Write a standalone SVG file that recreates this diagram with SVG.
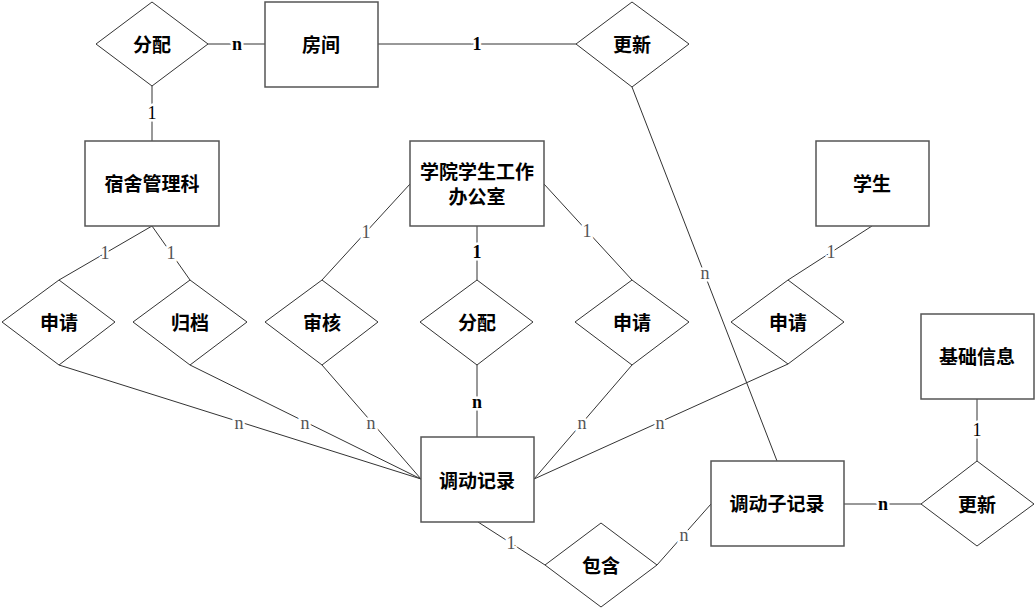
<svg xmlns="http://www.w3.org/2000/svg" width="1036" height="609" viewBox="0 0 1036 609">
<style>
.ent{fill:#fff;stroke:#555;stroke-width:1.5}
.rel{fill:#fff;stroke:#333;stroke-width:1}
.t{font-family:"Noto Sans CJK SC","Noto Sans CJK JP",sans-serif;font-size:19px;font-weight:bold;fill:#000;text-anchor:middle;dominant-baseline:central}
.ln{stroke:#333;stroke-width:1;fill:none}
.lb{font-family:"Liberation Serif",serif;font-size:18px;fill:#555;text-anchor:middle;dominant-baseline:central;stroke:#fff;stroke-width:5;paint-order:stroke}
.lk{fill:#000;font-weight:bold}
</style>
<rect width="1036" height="609" fill="#fff"/>
<g id="connectors">
<line class="ln" x1="208" y1="44" x2="265" y2="44"/>
<line class="ln" x1="152" y1="86" x2="152" y2="141"/>
<line class="ln" x1="378" y1="44" x2="576" y2="44"/>
<line class="ln" x1="632" y1="87" x2="777" y2="461"/>
<line class="ln" x1="152" y1="226" x2="59" y2="280"/>
<line class="ln" x1="152" y1="226" x2="190" y2="280"/>
<line class="ln" x1="410" y1="184" x2="322" y2="280"/>
<line class="ln" x1="544" y1="184" x2="632" y2="280"/>
<line class="ln" x1="477" y1="226" x2="477" y2="280"/>
<line class="ln" x1="872" y1="226" x2="788" y2="280"/>
<line class="ln" x1="59" y1="365" x2="421" y2="479"/>
<line class="ln" x1="190" y1="365" x2="421" y2="479"/>
<line class="ln" x1="322" y1="365" x2="421" y2="479"/>
<line class="ln" x1="477" y1="365" x2="477" y2="437"/>
<line class="ln" x1="632" y1="365" x2="534" y2="479"/>
<line class="ln" x1="788" y1="364" x2="534" y2="479"/>
<line class="ln" x1="478" y1="522" x2="545" y2="565"/>
<line class="ln" x1="657" y1="565" x2="711" y2="504"/>
<line class="ln" x1="844" y1="504" x2="921" y2="504"/>
<line class="ln" x1="977" y1="399" x2="977" y2="461"/>
<text class="lb lk" x="237" y="44">n</text>
<text class="lb lk" x="152" y="113" style="font-weight:normal">1</text>
<text class="lb lk" x="477" y="44">1</text>
<text class="lb" x="705" y="273">n</text>
<text class="lb" x="105" y="253">1</text>
<text class="lb" x="171" y="253">1</text>
<text class="lb" x="366" y="232">1</text>
<text class="lb" x="587" y="231">1</text>
<text class="lb lk" x="477" y="252">1</text>
<text class="lb" x="831" y="252">1</text>
<text class="lb" x="239" y="423">n</text>
<text class="lb" x="305" y="423">n</text>
<text class="lb" x="371" y="423">n</text>
<text class="lb lk" x="477" y="402">n</text>
<text class="lb" x="582" y="423">n</text>
<text class="lb" x="660" y="423">n</text>
<text class="lb" x="511" y="543">1</text>
<text class="lb" x="684" y="535">n</text>
<text class="lb lk" x="883" y="504">n</text>
<text class="lb lk" x="977" y="430" style="font-weight:normal">1</text>
</g>
<g id="fenpei1"><polygon class="rel" points="152,2 208,44 152,86 96,44"/><text class="t" x="152" y="43">分配</text></g>
<g id="fangjian"><rect class="ent" x="265" y="2" width="113" height="85"/><text class="t" x="321" y="43">房间</text></g>
<g id="gengxin1"><polygon class="rel" points="632,2 689,44 632,87 576,44"/><text class="t" x="632" y="43">更新</text></g>
<g id="sushe"><rect class="ent" x="85" y="141" width="134" height="85"/><text class="t" x="152" y="182">宿舍管理科</text></g>
<g id="xueyuan"><rect class="ent" x="410" y="141" width="134" height="85"/><text class="t" x="477" y="170">学院学生工作</text><text class="t" x="477" y="195">办公室</text></g>
<g id="xuesheng"><rect class="ent" x="816" y="141" width="113" height="85"/><text class="t" x="872" y="182">学生</text></g>
<g id="shenqing1"><polygon class="rel" points="59,280 115,322 59,365 2,322"/><text class="t" x="59" y="321">申请</text></g>
<g id="guidang"><polygon class="rel" points="190,280 247,322 190,365 133,322"/><text class="t" x="190" y="321">归档</text></g>
<g id="shenhe"><polygon class="rel" points="322,280 378,322 322,365 265,322"/><text class="t" x="322" y="321">审核</text></g>
<g id="fenpei2"><polygon class="rel" points="477,280 533,322 477,365 420,322"/><text class="t" x="477" y="321">分配</text></g>
<g id="shenqing2"><polygon class="rel" points="632,280 689,322 632,365 575,322"/><text class="t" x="632" y="321">申请</text></g>
<g id="shenqing3"><polygon class="rel" points="788,280 844,322 788,364 731,322"/><text class="t" x="788" y="321">申请</text></g>
<g id="jichu"><rect class="ent" x="921" y="314" width="113" height="85"/><text class="t" x="977" y="355">基础信息</text></g>
<g id="diaodong"><rect class="ent" x="421" y="437" width="113" height="85"/><text class="t" x="477" y="479">调动记录</text></g>
<g id="diaodongzi"><rect class="ent" x="711" y="461" width="133" height="85"/><text class="t" x="777" y="502">调动子记录</text></g>
<g id="gengxin2"><polygon class="rel" points="977,461 1034,504 977,546 921,504"/><text class="t" x="977" y="503">更新</text></g>
<g id="baohan"><polygon class="rel" points="601,523 657,565 601,607 545,565"/><text class="t" x="601" y="564">包含</text></g>
</svg>
